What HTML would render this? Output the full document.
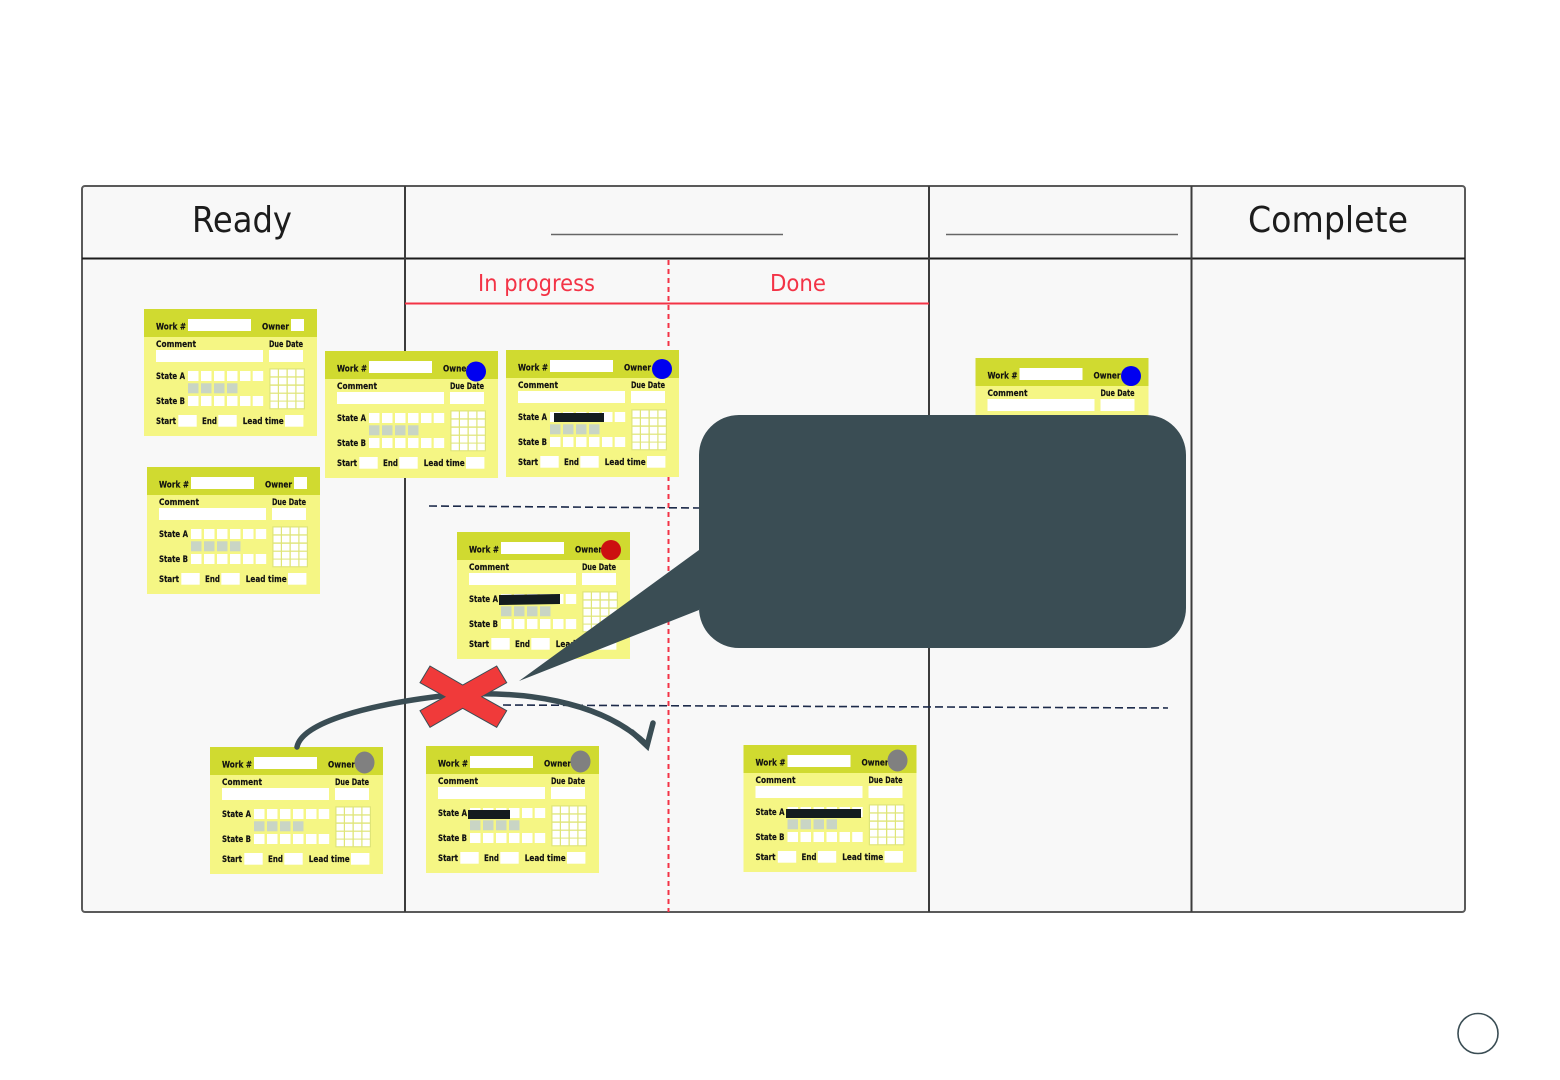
<!DOCTYPE html>
<html lang="en">
<head>
<meta charset="utf-8">
<title>Kanban board</title>
<style>
html,body{margin:0;padding:0;background:#fff}
svg{display:block}
.t{font:bold 8.400px "DejaVu Sans","Liberation Sans",sans-serif;fill:#111;stroke:#111;stroke-width:.15}
.h{font-family:"DejaVu Sans","Liberation Sans",sans-serif;fill:#1c1c1c}
.r{font-family:"DejaVu Sans","Liberation Sans",sans-serif;fill:#f33346}
</style>
</head>
<body>
<svg width="1560" height="1080" viewBox="0 0 1560 1080" xmlns="http://www.w3.org/2000/svg">
<defs>
<filter id="b" x="-5%" y="-5%" width="110%" height="110%"><feGaussianBlur stdDeviation="0.35"/></filter>
<g id="cf">
<g fill="#fff">
<rect x="44" y="10" width="63" height="12"/>
<rect x="12" y="41" width="107" height="12"/>
<rect x="125" y="41" width="34" height="12"/>
<rect x="44" y="62" width="10.5" height="10"/><rect x="57" y="62" width="10.5" height="10"/><rect x="70" y="62" width="10.5" height="10"/><rect x="83" y="62" width="10.5" height="10"/><rect x="96" y="62" width="10.5" height="10"/><rect x="108.700" y="62" width="10.5" height="10"/>
<rect x="44" y="87" width="10.5" height="10"/><rect x="57" y="87" width="10.5" height="10"/><rect x="70" y="87" width="10.5" height="10"/><rect x="83" y="87" width="10.5" height="10"/><rect x="96" y="87" width="10.5" height="10"/><rect x="108.700" y="87" width="10.5" height="10"/>
<rect x="34.300" y="106" width="18.4" height="11.7"/>
<rect x="74.300" y="106" width="18.4" height="11.7"/>
<rect x="141" y="106" width="18.4" height="11.7"/>
</g>
<g fill="#c9d5c5">
<rect x="44" y="74.300" width="10.5" height="10"/><rect x="57" y="74.300" width="10.5" height="10"/><rect x="70" y="74.300" width="10.5" height="10"/><rect x="83" y="74.300" width="10.5" height="10"/>
</g>
<rect x="125.300" y="59.300" width="35.7" height="41" fill="#dfe578"/>
<g fill="#fff">
<rect x="126.500" y="60.500" width="7.3" height="6.8"/><rect x="135" y="60.500" width="7.5" height="6.8"/><rect x="143.800" y="60.500" width="7.5" height="6.8"/><rect x="152.500" y="60.500" width="7.3" height="6.8"/>
<rect x="126.500" y="68.600" width="7.3" height="6.8"/><rect x="135" y="68.600" width="7.5" height="6.8"/><rect x="143.800" y="68.600" width="7.5" height="6.8"/><rect x="152.500" y="68.600" width="7.3" height="6.8"/>
<rect x="126.500" y="76.800" width="7.3" height="6.8"/><rect x="135" y="76.800" width="7.5" height="6.8"/><rect x="143.800" y="76.800" width="7.5" height="6.8"/><rect x="152.500" y="76.800" width="7.3" height="6.8"/>
<rect x="126.500" y="84.800" width="7.3" height="6.8"/><rect x="135" y="84.800" width="7.5" height="6.8"/><rect x="143.800" y="84.800" width="7.5" height="6.8"/><rect x="152.500" y="84.800" width="7.3" height="6.8"/>
<rect x="126.500" y="92.600" width="7.3" height="6.6"/><rect x="135" y="92.600" width="7.5" height="6.6"/><rect x="143.800" y="92.600" width="7.5" height="6.6"/><rect x="152.500" y="92.600" width="7.3" height="6.6"/>
</g>
</g>
<g id="cb">
<rect width="173" height="127" fill="#f5f684"/>
<rect width="173" height="28" fill="#d0da30"/>
<use href="#cf" filter="url(#b)"/>
</g>
<clipPath id="c5"><rect x="960" y="340" width="200" height="76"/></clipPath>
</defs>

<rect width="1560" height="1080" fill="#fff"/>
<!-- board -->
<rect x="82" y="186" width="1383" height="726" rx="3" fill="#f8f8f8" stroke="#5a5a5a" stroke-width="2"/>
<path d="M82 258.500H1465" stroke="#1c1c1c" stroke-width="2" fill="none"/>
<path d="M405 186V912M929 186V912M1191.500 186V912" stroke="#3c3c3c" stroke-width="2" fill="none"/>
<path d="M551 234.500H783M946 234.500H1178" stroke="#666" stroke-width="1.400" fill="none"/>
<path d="M405 303.500H929" stroke="#f33346" stroke-width="2" fill="none"/>
<path d="M668.500 260V912" stroke="#f33346" stroke-width="2" stroke-dasharray="5 4" fill="none"/>
<path d="M429 506L700 508M503 705L1168 708" stroke="#1c2a4a" stroke-width="1.600" stroke-dasharray="8 4" fill="none"/>

<!-- labels -->
<text class="h" x="192" y="232" font-size="36" textLength="100" lengthAdjust="spacingAndGlyphs">Ready</text>
<text class="h" x="1248" y="232" font-size="36" textLength="160" lengthAdjust="spacingAndGlyphs">Complete</text>
<text class="r" x="478" y="291" font-size="23" textLength="117" lengthAdjust="spacingAndGlyphs">In progress</text>
<text class="r" x="770" y="291" font-size="23" textLength="56" lengthAdjust="spacingAndGlyphs">Done</text>

<!-- card 1 -->
<g transform="translate(144 309)"><use href="#cb"/><rect x="147" y="10" width="13" height="12" fill="#fff" filter="url(#b)"/>
<text class="t" x="12" y="20.500" textLength="30" lengthAdjust="spacingAndGlyphs">Work #</text><text class="t" x="118" y="20.500" textLength="27" lengthAdjust="spacingAndGlyphs">Owner</text><text class="t" x="12" y="38" textLength="40" lengthAdjust="spacingAndGlyphs">Comment</text><text class="t" x="125" y="38" textLength="34" lengthAdjust="spacingAndGlyphs">Due Date</text><text class="t" x="12" y="70" textLength="29" lengthAdjust="spacingAndGlyphs">State A</text><text class="t" x="12" y="95" textLength="29" lengthAdjust="spacingAndGlyphs">State B</text><text class="t" x="12" y="115" textLength="20" lengthAdjust="spacingAndGlyphs">Start</text><text class="t" x="58" y="115" textLength="15" lengthAdjust="spacingAndGlyphs">End</text><text class="t" x="98.700" y="115" textLength="41" lengthAdjust="spacingAndGlyphs">Lead time</text></g>
<!-- card 2 -->
<g transform="translate(147 467)"><use href="#cb"/><rect x="147" y="10" width="13" height="12" fill="#fff" filter="url(#b)"/>
<text class="t" x="12" y="20.500" textLength="30" lengthAdjust="spacingAndGlyphs">Work #</text><text class="t" x="118" y="20.500" textLength="27" lengthAdjust="spacingAndGlyphs">Owner</text><text class="t" x="12" y="38" textLength="40" lengthAdjust="spacingAndGlyphs">Comment</text><text class="t" x="125" y="38" textLength="34" lengthAdjust="spacingAndGlyphs">Due Date</text><text class="t" x="12" y="70" textLength="29" lengthAdjust="spacingAndGlyphs">State A</text><text class="t" x="12" y="95" textLength="29" lengthAdjust="spacingAndGlyphs">State B</text><text class="t" x="12" y="115" textLength="20" lengthAdjust="spacingAndGlyphs">Start</text><text class="t" x="58" y="115" textLength="15" lengthAdjust="spacingAndGlyphs">End</text><text class="t" x="98.700" y="115" textLength="41" lengthAdjust="spacingAndGlyphs">Lead time</text></g>
<!-- card 3 -->
<g transform="translate(325 351)"><use href="#cb"/>
<text class="t" x="12" y="20.500" textLength="30" lengthAdjust="spacingAndGlyphs">Work #</text><text class="t" x="118" y="20.500" textLength="27" lengthAdjust="spacingAndGlyphs">Owner</text><text class="t" x="12" y="38" textLength="40" lengthAdjust="spacingAndGlyphs">Comment</text><text class="t" x="125" y="38" textLength="34" lengthAdjust="spacingAndGlyphs">Due Date</text><text class="t" x="12" y="70" textLength="29" lengthAdjust="spacingAndGlyphs">State A</text><text class="t" x="12" y="95" textLength="29" lengthAdjust="spacingAndGlyphs">State B</text><text class="t" x="12" y="115" textLength="20" lengthAdjust="spacingAndGlyphs">Start</text><text class="t" x="58" y="115" textLength="15" lengthAdjust="spacingAndGlyphs">End</text><text class="t" x="98.700" y="115" textLength="41" lengthAdjust="spacingAndGlyphs">Lead time</text></g>
<circle cx="476" cy="371.500" r="10" fill="#0000f0"/>
<!-- card 4 -->
<g transform="translate(506 350)"><use href="#cb"/>
<text class="t" x="12" y="20.500" textLength="30" lengthAdjust="spacingAndGlyphs">Work #</text><text class="t" x="118" y="20.500" textLength="27" lengthAdjust="spacingAndGlyphs">Owner</text><text class="t" x="12" y="38" textLength="40" lengthAdjust="spacingAndGlyphs">Comment</text><text class="t" x="125" y="38" textLength="34" lengthAdjust="spacingAndGlyphs">Due Date</text><text class="t" x="12" y="70" textLength="29" lengthAdjust="spacingAndGlyphs">State A</text><text class="t" x="12" y="95" textLength="29" lengthAdjust="spacingAndGlyphs">State B</text><text class="t" x="12" y="115" textLength="20" lengthAdjust="spacingAndGlyphs">Start</text><text class="t" x="58" y="115" textLength="15" lengthAdjust="spacingAndGlyphs">End</text><text class="t" x="98.700" y="115" textLength="41" lengthAdjust="spacingAndGlyphs">Lead time</text></g>
<circle cx="662" cy="369" r="10" fill="#0000f0"/>
<rect x="554" y="413" width="50" height="9" fill="#141c1f"/>
<!-- card 5 -->
<g clip-path="url(#c5)"><g transform="translate(975.500 358)"><use href="#cb"/>
<text class="t" x="12" y="20.500" textLength="30" lengthAdjust="spacingAndGlyphs">Work #</text><text class="t" x="118" y="20.500" textLength="27" lengthAdjust="spacingAndGlyphs">Owner</text><text class="t" x="12" y="38" textLength="40" lengthAdjust="spacingAndGlyphs">Comment</text><text class="t" x="125" y="38" textLength="34" lengthAdjust="spacingAndGlyphs">Due Date</text></g></g>
<circle cx="1131" cy="376" r="10" fill="#0000f0"/>
<!-- card 6 -->
<g transform="translate(457 532)"><use href="#cb"/>
<text class="t" x="12" y="20.500" textLength="30" lengthAdjust="spacingAndGlyphs">Work #</text><text class="t" x="118" y="20.500" textLength="27" lengthAdjust="spacingAndGlyphs">Owner</text><text class="t" x="12" y="38" textLength="40" lengthAdjust="spacingAndGlyphs">Comment</text><text class="t" x="125" y="38" textLength="34" lengthAdjust="spacingAndGlyphs">Due Date</text><text class="t" x="12" y="70" textLength="29" lengthAdjust="spacingAndGlyphs">State A</text><text class="t" x="12" y="95" textLength="29" lengthAdjust="spacingAndGlyphs">State B</text><text class="t" x="12" y="115" textLength="20" lengthAdjust="spacingAndGlyphs">Start</text><text class="t" x="58" y="115" textLength="15" lengthAdjust="spacingAndGlyphs">End</text><text class="t" x="98.700" y="115" textLength="41" lengthAdjust="spacingAndGlyphs">Lead time</text></g>
<circle cx="611" cy="550" r="10" fill="#cc1010"/>
<polygon points="499,595 560,594 560,604 499,605" fill="#141c1f"/>
<!-- card 7 -->
<g transform="translate(210 747)"><use href="#cb"/>
<text class="t" x="12" y="20.500" textLength="30" lengthAdjust="spacingAndGlyphs">Work #</text><text class="t" x="118" y="20.500" textLength="27" lengthAdjust="spacingAndGlyphs">Owner</text><text class="t" x="12" y="38" textLength="40" lengthAdjust="spacingAndGlyphs">Comment</text><text class="t" x="125" y="38" textLength="34" lengthAdjust="spacingAndGlyphs">Due Date</text><text class="t" x="12" y="70" textLength="29" lengthAdjust="spacingAndGlyphs">State A</text><text class="t" x="12" y="95" textLength="29" lengthAdjust="spacingAndGlyphs">State B</text><text class="t" x="12" y="115" textLength="20" lengthAdjust="spacingAndGlyphs">Start</text><text class="t" x="58" y="115" textLength="15" lengthAdjust="spacingAndGlyphs">End</text><text class="t" x="98.700" y="115" textLength="41" lengthAdjust="spacingAndGlyphs">Lead time</text></g>
<ellipse cx="364.500" cy="762.500" rx="10" ry="11" fill="#808080"/>
<!-- card 8 -->
<g transform="translate(426 746)"><use href="#cb"/>
<text class="t" x="12" y="20.500" textLength="30" lengthAdjust="spacingAndGlyphs">Work #</text><text class="t" x="118" y="20.500" textLength="27" lengthAdjust="spacingAndGlyphs">Owner</text><text class="t" x="12" y="38" textLength="40" lengthAdjust="spacingAndGlyphs">Comment</text><text class="t" x="125" y="38" textLength="34" lengthAdjust="spacingAndGlyphs">Due Date</text><text class="t" x="12" y="70" textLength="29" lengthAdjust="spacingAndGlyphs">State A</text><text class="t" x="12" y="95" textLength="29" lengthAdjust="spacingAndGlyphs">State B</text><text class="t" x="12" y="115" textLength="20" lengthAdjust="spacingAndGlyphs">Start</text><text class="t" x="58" y="115" textLength="15" lengthAdjust="spacingAndGlyphs">End</text><text class="t" x="98.700" y="115" textLength="41" lengthAdjust="spacingAndGlyphs">Lead time</text></g>
<ellipse cx="580.500" cy="761.500" rx="10" ry="11" fill="#808080"/>
<rect x="468" y="810" width="42" height="9" fill="#141c1f"/>
<!-- card 9 -->
<g transform="translate(743.500 745)"><use href="#cb"/>
<text class="t" x="12" y="20.500" textLength="30" lengthAdjust="spacingAndGlyphs">Work #</text><text class="t" x="118" y="20.500" textLength="27" lengthAdjust="spacingAndGlyphs">Owner</text><text class="t" x="12" y="38" textLength="40" lengthAdjust="spacingAndGlyphs">Comment</text><text class="t" x="125" y="38" textLength="34" lengthAdjust="spacingAndGlyphs">Due Date</text><text class="t" x="12" y="70" textLength="29" lengthAdjust="spacingAndGlyphs">State A</text><text class="t" x="12" y="95" textLength="29" lengthAdjust="spacingAndGlyphs">State B</text><text class="t" x="12" y="115" textLength="20" lengthAdjust="spacingAndGlyphs">Start</text><text class="t" x="58" y="115" textLength="15" lengthAdjust="spacingAndGlyphs">End</text><text class="t" x="98.700" y="115" textLength="41" lengthAdjust="spacingAndGlyphs">Lead time</text></g>
<ellipse cx="897.500" cy="760.500" rx="10" ry="11" fill="#808080"/>
<rect x="786" y="809" width="75" height="9" fill="#141c1f"/>

<!-- callout -->
<path d="M739 415H1146A40 40 0 0 1 1186 455V608A40 40 0 0 1 1146 648H739A40 40 0 0 1 699 608V610L519 681L699 550V455A40 40 0 0 1 739 415Z" fill="#3a4d54"/>

<!-- curved arrow -->
<path d="M297 747C302 722 370 704 450 695C520 690 600 700 646 744" fill="none" stroke="#3a4d54" stroke-width="5.500" stroke-linecap="round"/>
<path d="M632 732L647 746L653 723" fill="none" stroke="#3a4d54" stroke-width="5.500" stroke-linecap="round"/>

<!-- red X -->
<polygon points="430,666 462.700,685 496.700,666 506.700,682.700 481.700,696.700 506.700,710.700 496.700,727.300 462.700,708.300 430,727.300 420,710.700 445,696.700 420,682.700" fill="#f03a3a" stroke="#3a4d54" stroke-width="1"/>

<!-- small circle -->
<circle cx="1478" cy="1033.500" r="20" fill="#fff" stroke="#3a4d54" stroke-width="1.600"/>
</svg>
</body>
</html>
